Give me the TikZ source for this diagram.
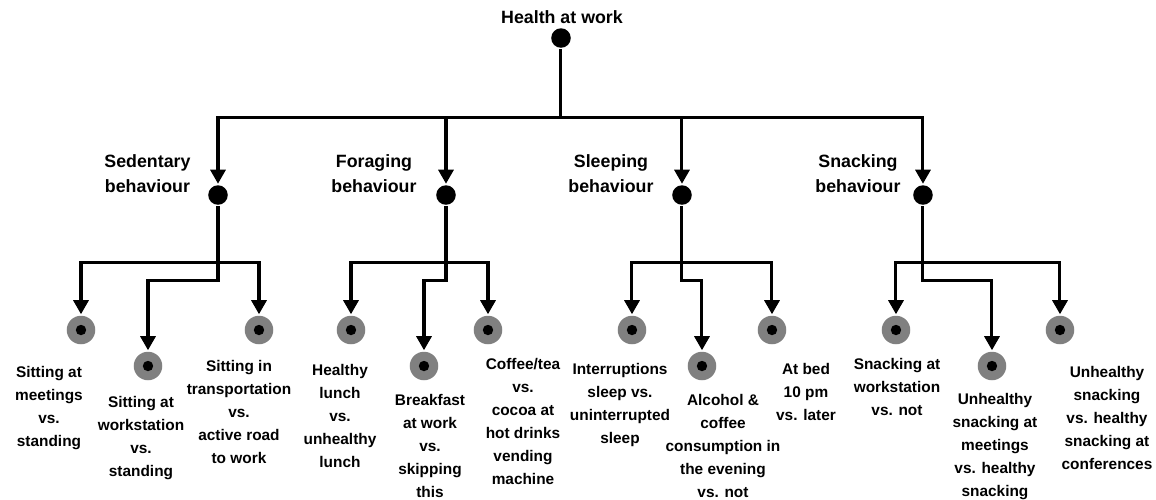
\documentclass[tikz,border=0pt]{standalone}
\usepackage{fontspec}
\setmainfont{Liberation Sans}
\usetikzlibrary{arrows.meta}
\definecolor{ringgray}{RGB}{128,128,128}
\begin{document}
\begin{tikzpicture}[x=0.01cm,y=-0.01cm,
  line width=0.3mm,
  arr/.style={-{Triangle[length=1.4mm,width=1.5mm]}},
  bigdot/.style={circle,fill=black,minimum size=1.95mm,inner sep=0pt},
  ring/.style={circle,fill=ringgray,minimum size=2.85mm,inner sep=0pt,
    path picture={\fill[black] (path picture bounding box.center) circle (0.52mm);}},
  toptext/.style={font=\fontsize{5.06pt}{7.1pt}\selectfont\bfseries,align=center,inner sep=0pt},
  leaftext/.style={font=\fontsize{4.38pt}{6.54pt}\selectfont\bfseries,align=center,inner sep=0pt,anchor=north}]
\useasboundingbox (0,0) rectangle (1156,499);

% root
\node[toptext,anchor=north] (roottxt) at (562,9.5) {Health at work};
\node[bigdot] (root) at (561,38) {};

% behaviours
\node[bigdot] (sed) at (218,195) {};
\node[bigdot] (for) at (446,195) {};
\node[bigdot] (sle) at (682,195) {};
\node[bigdot] (sna) at (923,195) {};
\node[toptext,anchor=north east] (sedtxt) at (192,153.5) {Sedentary\\behaviour};
\node[toptext,anchor=north east] (fortxt) at (418,153.5) {Foraging\\behaviour};
\node[toptext,anchor=north east] (sletxt) at (655,153.5) {Sleeping\\behaviour};
\node[toptext,anchor=north east] (snatxt) at (902,153.5) {Snacking\\behaviour};

\coordinate (rb) at (561,117);
\foreach \c in {sed,for,sle,sna}{\draw[arr] (root) -- (rb) -| (\c);}

% leaves
\node[ring] (sedL) at (81,330) {};
\node[ring] (sedM) at (148,366) {};
\node[ring] (sedR) at (259,330) {};
\node[ring] (forL) at (351,330) {};
\node[ring] (forM) at (424,366) {};
\node[ring] (forR) at (488,330) {};
\node[ring] (sleL) at (632,330) {};
\node[ring] (sleM) at (702,366) {};
\node[ring] (sleR) at (772,330) {};
\node[ring] (snaL) at (896,330) {};
\node[ring] (snaM) at (992,366) {};
\node[ring] (snaR) at (1060,330) {};

\foreach \c/\x in {sed/218,for/446,sle/682,sna/923}{
  \coordinate (\c b) at (\x,262);
  \coordinate (\c m) at (\x,280);
  \draw[arr] (\c) -- (\c b) -| (\c L);
  \draw[arr] (\c) -- (\c b) -| (\c R);
  \draw[arr] (\c) -- (\c m) -| (\c M);
}

% leaf texts
\node[leaftext] (tsedL) at (49,364.5) {Sitting at\\meetings\\vs.\\standing};
\node[leaftext] (tsedM) at (141,394.5) {Sitting at\\workstation\\vs.\\standing};
\node[leaftext] (tsedR) at (239,358.5) {Sitting in\\transportation\\vs.\\active road\\to work};
\node[leaftext] (tforL) at (340,362.5) {Healthy\\lunch\\vs.\\unhealthy\\lunch};
\node[leaftext] (tforM) at (430,392.5) {Breakfast\\at work\\vs.\\skipping\\this};
\node[leaftext] (tforR) at (523,356.5) {Coffee/tea\\vs.\\cocoa at\\hot drinks\\vending\\machine};
\node[leaftext] (tsleL) at (620,361.5) {Interruptions\\sleep vs.\\uninterrupted\\sleep};
\node[leaftext] (tsleM) at (723,392.5) {Alcohol \&\\coffee\\consumption in\\the evening\\vs. not};
\node[leaftext] (tsleR) at (806,361.5) {At bed\\10 pm\\vs. later};
\node[leaftext] (tsnaL) at (897,356.5) {Snacking at\\workstation\\vs. not};
\node[leaftext] (tsnaM) at (995,391.5) {Unhealthy\\snacking at\\meetings\\vs. healthy\\snacking};
\node[leaftext] (tsnaR) at (1107,364.5) {Unhealthy\\snacking\\vs. healthy\\snacking at\\conferences};
\end{tikzpicture}
\end{document}
